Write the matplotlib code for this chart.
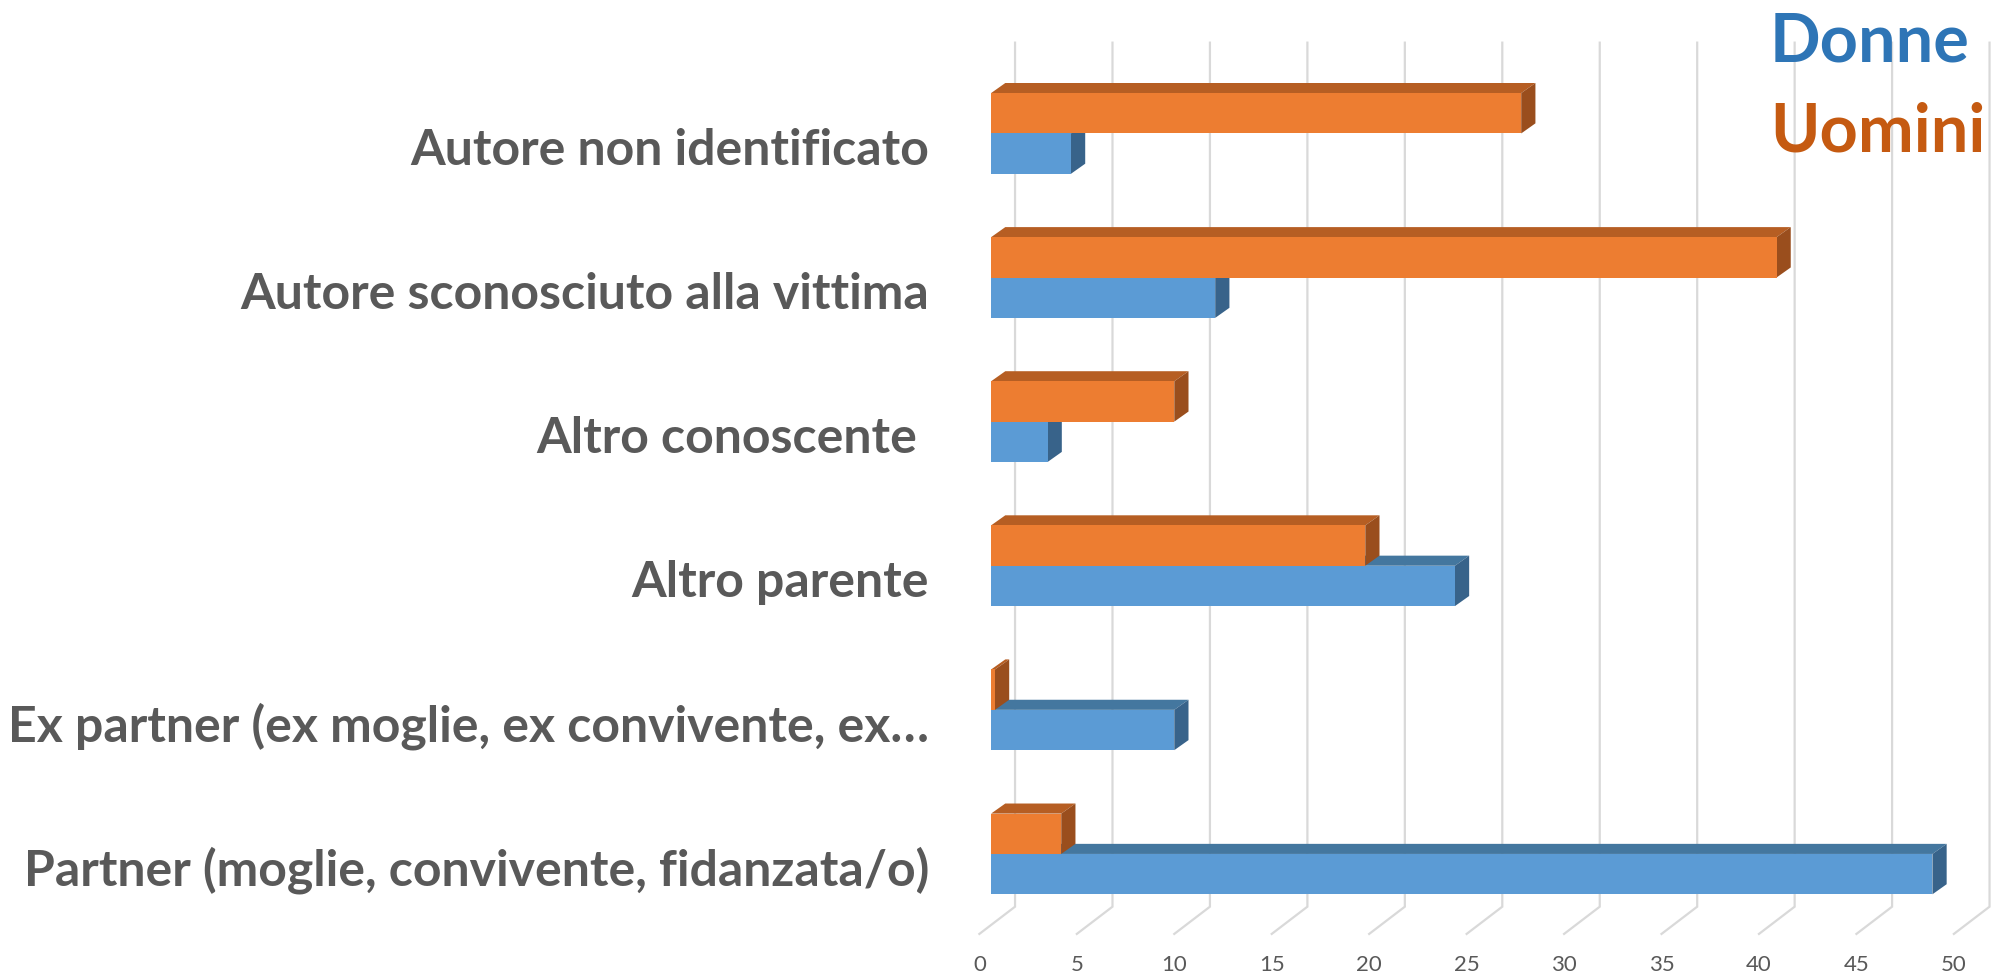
import matplotlib
matplotlib.use("Agg")
import matplotlib.pyplot as plt
from matplotlib.patches import Polygon

# Categories bottom -> top, values in percent
categories = [
    "Partner (moglie, convivente, fidanzata/o)",
    "Ex partner (ex moglie, ex convivente, ex\u2026",
    "Altro parente",
    "Altro conoscente ",
    "Autore sconosciuto alla vittima",
    "Autore non identificato",
]
donne = [48.3, 9.4, 23.8, 2.9, 11.5, 4.1]
uomini = [3.6, 0.2, 19.2, 9.4, 40.3, 27.2]
ticks = [0, 5, 10, 15, 20, 25, 30, 35, 40, 45, 50]
series_names = ["Donne", "Uomini"]

# Excel-like 3D shading: front, top, side
BLUE = ("#5B9BD5", "#44779F", "#38638A")
ORANGE = ("#ED7D31", "#B65E23", "#9A4E1D")
GRID = "#D9D9D9"
TEXT = "#595959"

# 3D look in data units
H = 0.28          # height of one bar (category units)
DX, DY = 0.73, 0.07   # depth offset of the bars
WALL = 1.23       # back wall offset of gridlines
FLOOR_X = -0.60   # front edge of floor
GRID_TOP, FLOOR_BACK, FLOOR_FRONT = 5.63, -0.366, -0.555

fig = plt.figure(figsize=(19.95, 9.76), dpi=100)
ax = fig.add_axes([0, 0, 1, 1])
ax.set_xlim(-50.85, 51.51)
ax.set_ylim(-0.847, 5.926)
ax.axis("off")

# gridlines on back wall + floor
for t in ticks:
    ax.plot([t + WALL, t + WALL, t + FLOOR_X], [GRID_TOP, FLOOR_BACK, FLOOR_FRONT],
            color=GRID, lw=1.6, zorder=1, solid_joinstyle="miter")
    ax.text(t + FLOOR_X, -0.77, str(t), ha="center", va="center",
            fontsize=16, color=TEXT, family=["Lato", "DejaVu Sans"])


def bar3d(v, b, cols, z):
    t = b + H
    top = [(0, t), (v, t), (v + DX, t + DY), (DX, t + DY)]
    side = [(v, b), (v + DX, b + DY), (v + DX, t + DY), (v, t)]
    ax.add_patch(Polygon(top, closed=True, fc=cols[1], ec="none", zorder=z))
    ax.add_patch(Polygon(side, closed=True, fc=cols[2], ec="none", zorder=z + 0.1))


ys = list(range(len(categories)))
for i in ys:
    bar3d(donne[i], i - H, BLUE, 2)
    bar3d(uomini[i], i, ORANGE, 3)
ax.barh([y - H / 2 for y in ys], donne, height=H, color=BLUE[0], zorder=2.5)
ax.barh([y + H / 2 for y in ys], uomini, height=H, color=ORANGE[0], zorder=3.5)

# category labels
for i, lab in enumerate(categories):
    ax.text(-3.18, i - 0.22, lab, ha="right", va="baseline", fontsize=36,
            fontweight="bold", color=TEXT, family=["Lato", "DejaVu Sans"])

# series names in the top right corner
fig.text(0.8872, 0.9368, series_names[0], ha="left", va="baseline", fontsize=48,
         fontweight="bold", color="#2E75B6", family=["Lato", "DejaVu Sans"])
fig.text(0.8872, 0.8446, series_names[1], ha="left", va="baseline", fontsize=48,
         fontweight="bold", color="#C55A11", family=["Lato", "DejaVu Sans"])

fig.savefig("out.png", dpi=100, facecolor="white")
